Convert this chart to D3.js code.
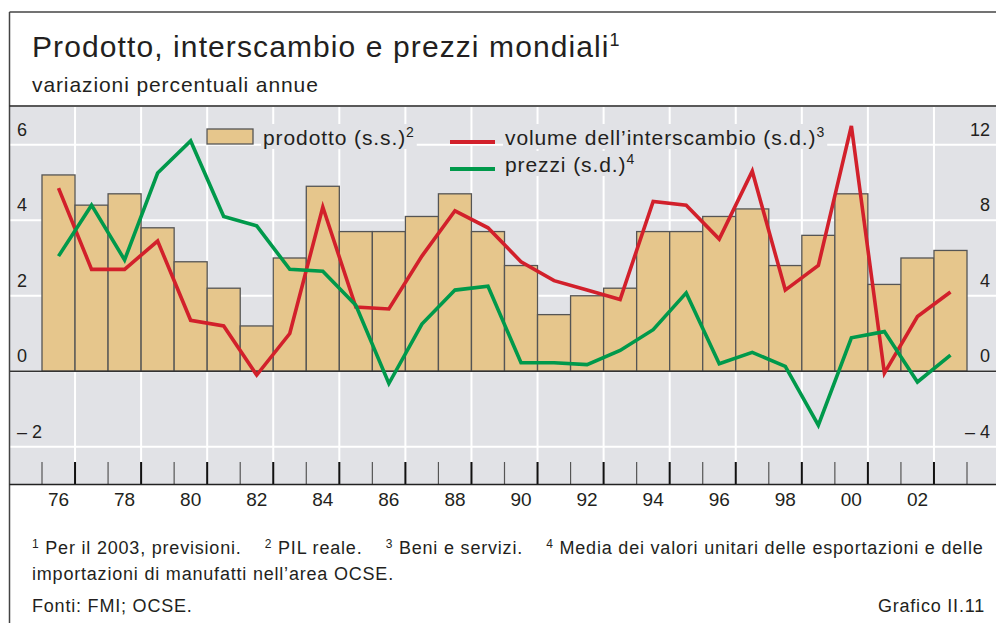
<!DOCTYPE html>
<html>
<head>
<meta charset="utf-8">
<title>Prodotto, interscambio e prezzi mondiali</title>
<style>
  body { margin:0; background:#fff; }
  svg { display:block; }
  text { font-family:"Liberation Sans", Arial, sans-serif; fill:#231f20; }
</style>
</head>
<body>
<svg width="996" height="623"></svg>
<script src="https://cdnjs.cloudflare.com/ajax/libs/d3/7.8.5/d3.min.js"></script>
<script>
// dati
var years = [1976,1977,1978,1979,1980,1981,1982,1983,1984,1985,1986,1987,1988,1989,
             1990,1991,1992,1993,1994,1995,1996,1997,1998,1999,2000,2001,2002,2003];
var prodotto = [5.2,4.4,4.7,3.8,2.9,2.2,1.2,3.0,4.9,3.7,3.7,4.1,4.7,3.7,
                2.8,1.5,2.0,2.2,3.7,3.7,4.1,4.3,2.8,3.6,4.7,2.3,3.0,3.2];
var volume = [9.7,5.4,5.4,6.9,2.7,2.4,-0.2,2.0,8.7,3.4,3.3,6.1,8.5,7.6,
              5.8,4.8,4.3,3.8,9.0,8.8,7.0,10.6,4.3,5.6,13.0,-0.1,2.9,4.2];
var prezzi = [6.1,8.8,5.9,10.5,12.2,8.2,7.7,5.4,5.3,3.5,-0.65,2.5,4.3,4.5,
              0.45,0.45,0.35,1.1,2.2,4.15,0.4,1.0,0.26,-2.86,1.77,2.1,-0.57,0.85];
var leftTicks = [-2, 0, 2, 4, 6];
var rightTicks = [-4, 0, 4, 8, 12];
var yearLabels = ["76","78","80","82","84","86","88","90","92","94","96","98","00","02"];

var gray = "#e1e2e6", barFill = "#e6c68c", barLine = "#555", red = "#d2202b", green = "#00994b";

var svg = d3.select("svg");

var x = d3.scaleBand().domain(years).range([42, 967]).padding(0);
var bw = x.bandwidth();
var yL = d3.scaleLinear().domain([-3, 7]).range([484.5, 107]);
var yR = d3.scaleLinear().domain([-6, 14]).range([484.5, 107]);

// titolo
svg.append("text").attr("x", 32).attr("y", 57).style("font-size", "30px").style("letter-spacing", "1.1px")
   .text("Prodotto, interscambio e prezzi mondiali")
   .append("tspan").attr("dy", -11).style("font-size", "18px").text("1");
svg.append("text").attr("x", 32).attr("y", 92).style("font-size", "21px").style("letter-spacing", "0.9px")
   .text("variazioni percentuali annue");

// area del grafico
svg.append("rect").attr("x", 10).attr("y", 107).attr("width", 986).attr("height", 377.5).attr("fill", gray);

svg.selectAll(".hgrid").data(leftTicks).enter().append("line")
   .attr("x1", 10).attr("x2", 996)
   .attr("y1", function(d){ return yL(d); }).attr("y2", function(d){ return yL(d); })
   .attr("stroke", "#fff").attr("stroke-width", 2);

var evenYears = years.filter(function(y){ return y % 2 === 0; });
svg.selectAll(".vgrid").data(evenYears).enter().append("line")
   .attr("x1", function(d){ return x(d) + bw; }).attr("x2", function(d){ return x(d) + bw; })
   .attr("y1", 107).attr("y2", 462)
   .attr("stroke", "#fff").attr("stroke-width", 2);

// barre
svg.selectAll(".bar").data(prodotto).enter().append("rect")
   .attr("x", function(d, i){ return x(years[i]); })
   .attr("y", function(d){ return yL(d); })
   .attr("width", bw)
   .attr("height", function(d){ return yL(0) - yL(d); })
   .attr("fill", barFill).attr("stroke", barLine).attr("stroke-width", 1.3);

svg.append("line").attr("x1", 10).attr("x2", 996).attr("y1", yL(0)).attr("y2", yL(0))
   .attr("stroke", "#333").attr("stroke-width", 1.6);

// tacche in basso
var edges = years.map(function(y){ return x(y); }).concat([x(2003) + bw]);
svg.selectAll(".tick").data(edges).enter().append("line")
   .attr("x1", function(d){ return d; }).attr("x2", function(d){ return d; })
   .attr("y1", 462).attr("y2", 484.5)
   .attr("stroke", function(d, i){ return i % 2 === 1 ? "#111" : "#555"; })
   .attr("stroke-width", function(d, i){ return i % 2 === 1 ? 2 : 1.2; });

// cornice
svg.append("line").attr("x1", 9.5).attr("x2", 996).attr("y1", 12).attr("y2", 12).attr("stroke", "#444").attr("stroke-width", 1.5);
svg.append("line").attr("x1", 9.5).attr("x2", 9.5).attr("y1", 12).attr("y2", 623).attr("stroke", "#444").attr("stroke-width", 1.5);
svg.append("line").attr("x1", 9.5).attr("x2", 996).attr("y1", 106).attr("y2", 106).attr("stroke", "#222").attr("stroke-width", 1.5);
svg.append("line").attr("x1", 9.5).attr("x2", 996).attr("y1", 484.5).attr("y2", 484.5).attr("stroke", "#222").attr("stroke-width", 1.5);

// linee
var line = d3.line()
   .x(function(d, i){ return x(years[i]) + bw / 2; })
   .y(function(d){ return yR(d); });
svg.append("path").datum(volume).attr("d", line).attr("fill", "none")
   .attr("stroke", red).attr("stroke-width", 3.6).attr("stroke-linejoin", "miter");
svg.append("path").datum(prezzi).attr("d", line).attr("fill", "none")
   .attr("stroke", green).attr("stroke-width", 3.6).attr("stroke-linejoin", "miter");

// etichette assi
function fmt(d){ return d < 0 ? "\u2013 " + Math.abs(d) : String(d); }
svg.selectAll(".ylab").data(leftTicks).enter().append("text")
   .attr("x", 17).attr("y", function(d){ return yL(d) - 9; })
   .style("font-size", "18px").text(fmt);
svg.selectAll(".yrlab").data(rightTicks).enter().append("text")
   .attr("x", 990).attr("y", function(d){ return yR(d) - 9; })
   .attr("text-anchor", "end").style("font-size", "18px").text(fmt);
svg.selectAll(".xlab").data(evenYears).enter().append("text")
   .attr("x", function(d){ return x(d) + bw / 2; }).attr("y", 506)
   .attr("text-anchor", "middle").style("font-size", "19px")
   .text(function(d, i){ return yearLabels[i]; });

// legenda
function legendText(xp, yp, label, sup){
  var t = svg.append("text").attr("x", xp).attr("y", yp).style("font-size", "21px")
     .style("letter-spacing", "0.9px").text(label);
  t.append("tspan").attr("dy", -8).style("font-size", "14px").text(sup);
  var b = t.node().getBBox();
  svg.insert("rect", function(){ return t.node(); })
     .attr("x", b.x - 2).attr("y", b.y).attr("width", b.width + 4).attr("height", b.height)
     .attr("fill", gray);
}
svg.append("rect").attr("x", 207).attr("y", 129).attr("width", 46).attr("height", 15)
   .attr("fill", barFill).attr("stroke", barLine).attr("stroke-width", 1.3);
legendText(263, 145, "prodotto (s.s.)", "2");
svg.append("line").attr("x1", 450).attr("x2", 495).attr("y1", 142).attr("y2", 142).attr("stroke", red).attr("stroke-width", 4);
legendText(505, 145, "volume dell\u2019interscambio (s.d.)", "3");
svg.append("line").attr("x1", 450).attr("x2", 495).attr("y1", 169).attr("y2", 169).attr("stroke", green).attr("stroke-width", 4);
legendText(505, 172, "prezzi (s.d.)", "4");

// note
var note1 = svg.append("text").attr("x", 32).attr("y", 554).style("font-size", "18px")
   .style("letter-spacing", "0.8px").style("white-space", "pre");
[["1", " Per il 2003, previsioni.    "], ["2", " PIL reale.    "], ["3", " Beni e servizi.    "],
 ["4", " Media dei valori unitari delle esportazioni e delle"]].forEach(function(p){
  note1.append("tspan").attr("dy", -6).style("font-size", "12px").text(p[0]);
  note1.append("tspan").attr("dy", 6).text(p[1]);
});
svg.append("text").attr("x", 32).attr("y", 580).style("font-size", "18px").style("letter-spacing", "0.8px")
   .text("importazioni di manufatti nell\u2019area OCSE.");
svg.append("text").attr("x", 32).attr("y", 612).style("font-size", "18px").style("letter-spacing", "0.8px")
   .text("Fonti: FMI; OCSE.");
svg.append("text").attr("x", 985).attr("y", 612).attr("text-anchor", "end").style("font-size", "18px")
   .style("letter-spacing", "0.8px").text("Grafico II.11");
</script>
</body>
</html>
